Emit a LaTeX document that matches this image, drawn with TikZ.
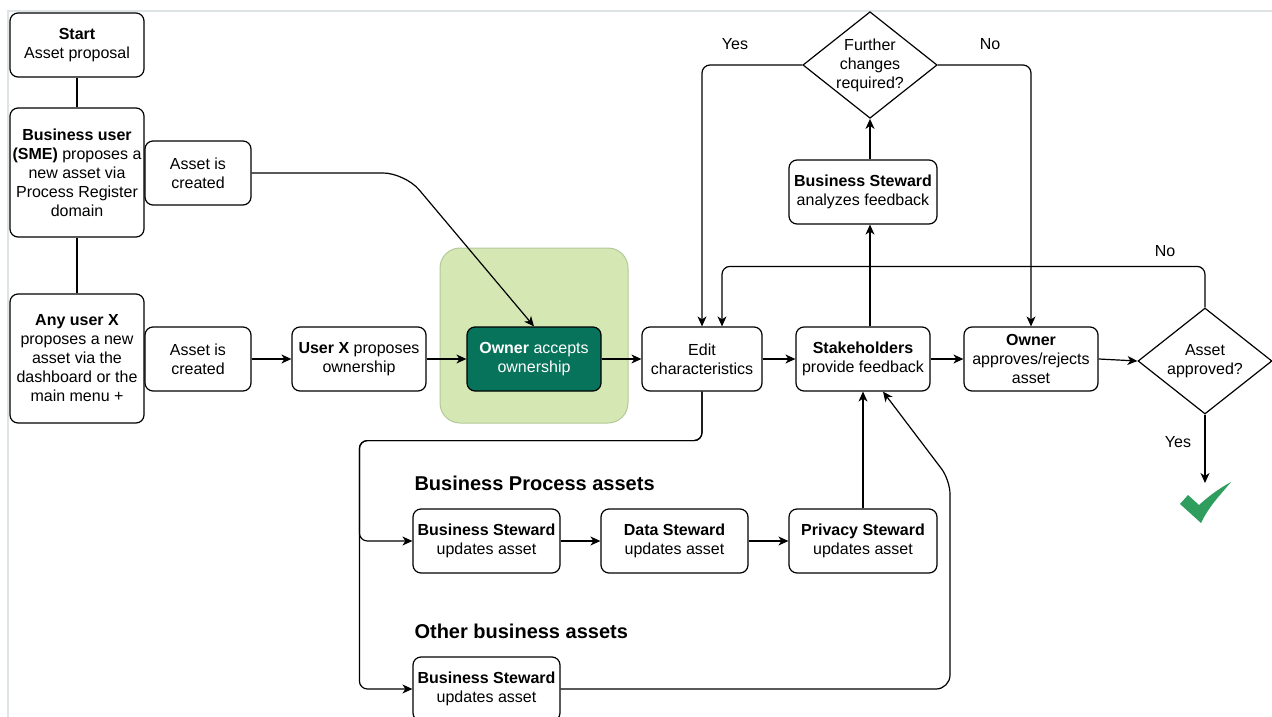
\documentclass[tikz,border=0pt]{standalone}
\usepackage{fontspec}
\setmainfont{Liberation Sans}
\usetikzlibrary{arrows.meta,shapes.geometric}
\definecolor{ownergreen}{HTML}{06735A}
\definecolor{softgreen}{HTML}{D5E8B4}
\definecolor{softedge}{HTML}{B3C99A}
\definecolor{tickgreen}{HTML}{2F9D5E}
\definecolor{framegray}{HTML}{DEE4E6}

\begin{document}
\begin{tikzpicture}[x=1pt, y=-1pt,
    every node/.style={font=\fontsize{16}{19}\selectfont},
    box/.style={draw, rounded corners=8pt, line width=1.2pt, align=center, minimum height=64pt, inner sep=1pt},
    decision/.style={draw, diamond, aspect=1.26, line width=1.2pt, align=center, inner sep=0pt, minimum width=134pt, minimum height=106pt},
    link/.style={line width=1.2pt, rounded corners=8pt},
    arr/.style={link, -{Stealth[length=10pt, width=9pt, inset=3pt]}},
    heading/.style={anchor=west, font=\fontsize{20}{24}\selectfont\bfseries}]
    \useasboundingbox (0,0) rectangle (1272,717);
    \draw[framegray, line width=2pt] (8,717) -- (8,11) -- (1272,11);

    \node[box, minimum width=134pt] (start) at (77,45) {\textbf{Start}\\Asset proposal};
    \node[box, minimum width=134pt, minimum height=129pt] (sme) at (77,172.5) {\textbf{Business user}\\\textbf{(SME)} proposes a\\new asset via\\Process Register\\domain};
    \node[box, minimum width=106pt] (created1) at (198,173) {Asset is\\created};
    \node[box, minimum width=134pt, minimum height=129pt] (anyx) at (77,358.5) {\textbf{Any user X}\\proposes a new\\asset via the\\dashboard or the\\main menu +};
    \node[box, minimum width=106pt] (created2) at (198,359) {Asset is\\created};
    \node[box, minimum width=134pt] (userx) at (359,359) {\textbf{User X} proposes\\ownership};
    \node[draw=softedge, fill=softgreen, rounded corners=20pt, line width=1pt, minimum width=188pt, minimum height=175pt] (focus) at (534,335.5) {};
    \node[box, fill=ownergreen, text=white, minimum width=134pt] (accept) at (534,359) {\textbf{Owner} accepts\\ownership};
    \node[box, minimum width=120pt] (edit) at (702,359) {Edit\\characteristics};
    \node[box, minimum width=134pt] (stake) at (863,359) {\textbf{Stakeholders}\\provide feedback};
    \node[box, minimum width=134pt] (approve) at (1031,359) {\textbf{Owner}\\approves/rejects\\asset};
    \node[decision] (approved) at (1205,361) {Asset\\approved?};
    \node[box, minimum width=148pt] (analyze) at (863,192) {\textbf{Business Steward}\\analyzes feedback};
    \node[decision] (further) at (870,65) {Further\\changes\\required?};

    \node[heading] (bpa) at (411,483) {Business Process assets};
    \node[box, minimum width=147pt] (bsbp) at (486.5,541) {\textbf{Business Steward}\\updates asset};
    \node[box, minimum width=147pt] (data) at (674.5,541) {\textbf{Data Steward}\\updates asset};
    \node[box, minimum width=148pt] (privacy) at (863,541) {\textbf{Privacy Steward}\\updates asset};
    \node[heading] (oba) at (411,631) {Other business assets};
    \node[box, minimum width=147pt] (bsother) at (486.5,689) {\textbf{Business Steward}\\updates asset};

    \node (yes1) at (735,44) {Yes};
    \node (no1) at (990,44) {No};
    \node (no2) at (1165,251) {No};
    \node (yes2) at (1178,442) {Yes};

    \coordinate (done) at (1205,483);
    \fill[tickgreen] (1180,504) -- (1188,495) -- (1199,505) .. controls (1210,495) and (1220,488) .. (1231,482)
      .. controls (1222,493) and (1209,506) .. (1201,523) -- cycle;

    \draw[link] (start) -- (sme);
    \draw[link] (sme) -- (anyx);
    \draw[arr, rounded corners=22pt] (created1.east) -- (405,173) -- (accept.north);
    \draw[arr] (created2) -- (userx);
    \draw[arr] (userx) -- (accept);
    \draw[arr] (accept) -- (edit);
    \draw[arr] (edit) -- (stake);
    \draw[arr] (stake) -- (approve);
    \draw[arr] (approve.east) -- (approved.west);
    \draw[arr] (approved.south) -- (done);
    \draw[arr] (approved.north) -- ++(0,-41) -| ([xshift=20pt]edit.north);
    \draw[arr] ([xshift=7pt]stake.north) -- ([xshift=7pt]analyze.south);
    \draw[arr] ([xshift=7pt]analyze.north) -- (further.south);
    \draw[arr] (further.west) -| (edit.north);
    \draw[arr] (further.east) -| (approve.north);
    \draw[arr] (edit.south) -- ++(0,49) -| ([xshift=-53pt]bsbp.west) -- (bsbp.west);
    \draw[arr] (edit.south) -- ++(0,49) -| ([xshift=-53pt]bsother.west) -- (bsother.west);
    \draw[arr] (bsbp) -- (data);
    \draw[arr] (data) -- (privacy);
    \draw[arr] (privacy) -- (stake);
    \draw[arr, rounded corners=14pt] (bsother.east) -| (950,480) -- ([xshift=20pt]stake.south);
\end{tikzpicture}
\end{document}
